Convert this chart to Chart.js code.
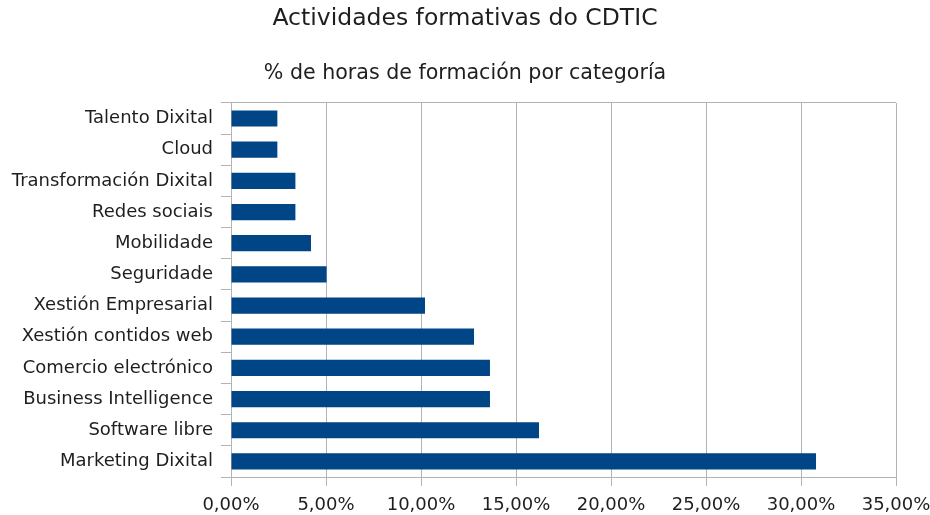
<!DOCTYPE html>
<html>
<head>
<meta charset="utf-8">
<script src="https://cdn.jsdelivr.net/npm/chart.js@4/dist/chart.umd.min.js"></script>
<style>
html,body{margin:0;padding:0;background:#fff;}
#wrap{width:930px;height:515px;position:relative;}
</style>
</head>
<body>
<div id="wrap"><canvas id="c" width="930" height="515"></canvas></div>
<script>
const categories = ["Talento Dixital","Cloud","Transformación Dixital","Redes sociais","Mobilidade","Seguridade","Xestión Empresarial","Xestión contidos web","Comercio electrónico","Business Intelligence","Software libre","Marketing Dixital"];
const values = [2.44, 2.44, 3.39, 3.39, 4.21, 5.03, 10.21, 12.79, 13.63, 13.63, 16.21, 30.79];
const xTicks = [0,5,10,15,20,25,30,35];
const titleText = "Actividades formativas do CDTIC";
const subtitleText = "% de horas de formación por categoría";

const FONT = "'DejaVu Sans', 'Liberation Sans', Arial, sans-serif";
const TXT = "#1e1e1e";
const GRID = "#b3b3b3";

new Chart(document.getElementById('c'), {
  type: 'bar',
  data: {
    labels: categories,
    datasets: [{
      data: values,
      backgroundColor: '#004586',
      borderWidth: 0,
      barPercentage: 0.52,
      categoryPercentage: 1.0
    }]
  },
  options: {
    indexAxis: 'y',
    responsive: false,
    animation: false,
    layout: { padding: { left: 0, right: 0, top: 3, bottom: 0 } },
    plugins: {
      legend: { display: false },
      tooltip: { enabled: false },
      title: {
        display: true, text: titleText, color: TXT,
        font: { family: FONT, size: 23.5, weight: 'normal', lineHeight: 1.2 },
        padding: { top: 2, bottom: 14 }
      },
      subtitle: {
        display: true, text: subtitleText, color: TXT,
        font: { family: FONT, size: 20.6, weight: 'normal', lineHeight: 1.2 },
        padding: { top: 14, bottom: 17 }
      }
    },
    scales: {
      x: {
        type: 'linear', min: 0, max: 35,
        afterBuildTicks: s => { s.ticks = xTicks.map(v => ({ value: v })); },
        ticks: {
          color: TXT, font: { family: FONT, size: 18 }, padding: 9,
          callback: v => v.toFixed(2).replace('.', ',') + '%'
        },
        grid: { color: GRID, lineWidth: 1, tickLength: 9, tickColor: GRID },
        border: { color: GRID, width: 1 },
        afterFit: s => { s.height = 38; s.paddingRight = 34; s.paddingLeft = 0; }
      },
      y: {
        ticks: { color: TXT, font: { family: FONT, size: 18 }, padding: 8 },
        grid: {
          offset: true,
          color: ctx => ctx.index === 0 ? GRID : 'rgba(0,0,0,0)',
          tickColor: GRID, tickLength: 10, lineWidth: 1
        },
        border: { color: GRID, width: 1 },
        afterFit: s => { s.width = 231; }
      }
    }
  }
});
</script>
</body>
</html>
